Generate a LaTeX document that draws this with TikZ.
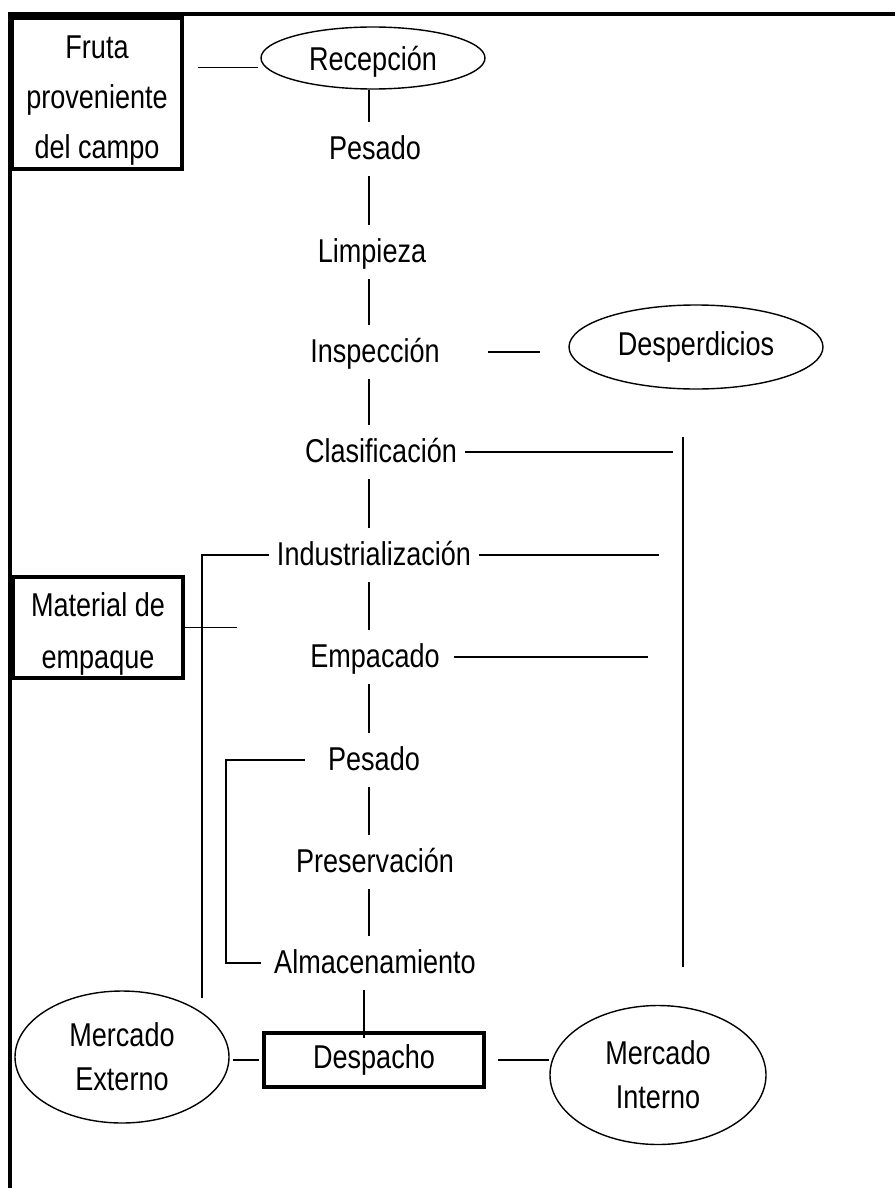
\documentclass[tikz,border=0pt]{standalone}
\usepackage{fontspec}
\setmainfont[FakeStretch=0.82]{Liberation Sans}
\usetikzlibrary{shapes.geometric}

\begin{document}
\begin{tikzpicture}[x=1pt,y=-1pt,
    font=\fontsize{33}{48}\selectfont,
    linea/.style={line width=1.4pt},
    paso/.style={anchor=base,text height=25pt,text depth=5pt,inner xsep=8pt,inner ysep=12pt},
    caja/.style={draw,line width=4pt,inner sep=0pt,align=center},
    elipse/.style={draw,ellipse,line width=1.4pt,inner sep=0pt,align=center}]
    \useasboundingbox (0,0) rectangle (895,1188);

    % marco de la hoja
    \draw[line width=4pt] (10,1188) -- (10,14) -- (895,14);

    \node[caja,minimum width=170pt,minimum height=151pt,font=\fontsize{33}{50}\selectfont] (fruta) at (97,93.5) {\rule{0pt}{37pt}Fruta\\proveniente\\del campo};
    \node[caja,minimum width=170pt,minimum height=101pt,font=\fontsize{33}{52}\selectfont] (mat) at (98,627.5) {\rule{0pt}{37pt}Material de\\empaque};
    \node[caja,minimum width=220pt,minimum height=54pt,line width=4.5pt] (desp) at (374,1060) {Despacho};

    \node[elipse,minimum width=224pt,minimum height=62pt,text depth=0pt] (recep) at (373,58) {Recepción};
    \node[elipse,minimum width=254pt,minimum height=84pt] (desper) at (696,347) {Desperdicios};
    \node[elipse,minimum width=214pt,minimum height=132pt,font=\fontsize{33}{44}\selectfont] (mext) at (122,1057) {Mercado\\Externo};
    \node[elipse,minimum width=216pt,minimum height=139pt,font=\fontsize{33}{44}\selectfont] (mint) at (658,1075) {Mercado\\Interno};

    % pasos del proceso
    \foreach \n/\x/\y/\txt in {
        pesA/375/159/Pesado,
        lim/372/262/Limpieza,
        insp/375/362/Inspección,
        clas/381/462/Clasificación,
        ind/374/565/Industrialización,
        emp/375/667/Empacado,
        pesB/374/770/Pesado,
        pres/375/872/Preservación,
        alm/375/973/Almacenamiento
    }{
        \node[paso] (\n) at (\x,\y) {\txt};
    }

    \coordinate (eje) at (369,0);
    \coordinate (ejeB) at (364,0);
    \foreach \a/\b in {recep/pesA, pesA/lim, lim/insp, insp/clas, clas/ind, ind/emp, emp/pesB, pesB/pres, pres/alm}{
        \draw[linea] (\a.south -| eje) -- (\b.north -| eje);
    }
    \draw[linea] (alm.south -| ejeB) -- ([yshift=-7pt]desp.north -| ejeB);

    % entradas y salidas laterales
    \draw[linea,shorten <=14pt,shorten >=7pt] (recep.185 -| fruta.east) -- (recep.185);
    \draw[linea,shorten <=40pt,shorten >=28pt] (insp.east) -- (insp.east -| desper.west);
    \draw[linea] (mat.east) -- ([xshift=52pt]mat.east);

    % mercado interno
    \coordinate (busA) at (683,437);
    \coordinate (busB) at (683,967);
    \draw[linea] (busA) -- (busB);
    \draw[linea,shorten >=10pt] (clas.east) -- (clas.east -| busA);
    \draw[linea,shorten >=24pt] (ind.east) -- (ind.east -| busA);
    \draw[linea,shorten <=6pt,shorten >=35pt] (emp.east) -- (emp.east -| busA);

    % mercado externo
    \coordinate (izq) at (202,998);
    \draw[linea] (ind.west) -- (ind.west -| izq) -- (izq);

    \coordinate (corch) at (226,0);
    \draw[linea] ([xshift=-15pt]pesB.west) -- (pesB.west -| corch) -- (alm.west -| corch) -- ([xshift=-5pt]alm.west);

    \draw[linea,shorten <=3pt,shorten >=3pt] (desp.west -| mext.east) -- (desp.west);
    \draw[linea,shorten <=12pt] (desp.east) -- (desp.east -| mint.west);
\end{tikzpicture}
\end{document}
